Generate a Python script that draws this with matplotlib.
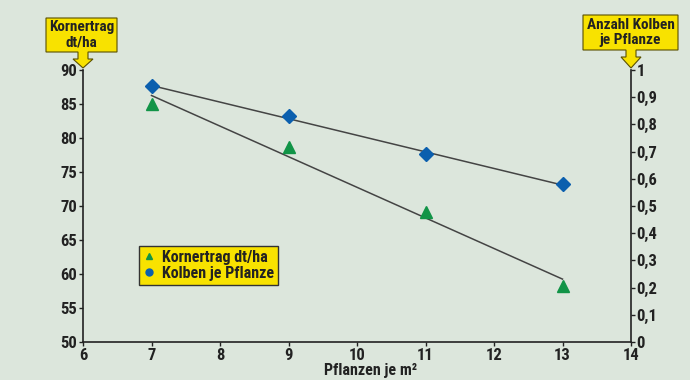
import numpy as np
import matplotlib
matplotlib.use("Agg")
import matplotlib.pyplot as plt
from matplotlib.patches import Polygon
from matplotlib.lines import Line2D

# data
pflanzen = [7, 9, 11, 13]
kornertrag = [85.0, 78.7, 69.1, 58.2]
kolben = [0.94, 0.83, 0.69, 0.58]

left_ticks = [50, 55, 60, 65, 70, 75, 80, 85, 90]
right_ticks = [0, 0.1, 0.2, 0.3, 0.4, 0.5, 0.6, 0.7, 0.8, 0.9, 1]
right_labels = ["0", "0,1", "0,2", "0,3", "0,4", "0,5", "0,6", "0,7", "0,8", "0,9", "1"]
x_ticks = [6, 7, 8, 9, 10, 11, 12, 13, 14]

bg = "#dce6dc"
yellow = "#f8e200"
green = "#119447"
blue = "#0b5fae"
dark = "#222222"

plt.rcParams['font.family'] = ['Roboto Condensed', 'DejaVu Sans']
plt.rcParams['font.weight'] = 'bold'

W, H = 690, 380
fig = plt.figure(figsize=(W / 100, H / 100), dpi=100, facecolor=bg)
ax = fig.add_axes([83 / W, 1 - 342 / H, (631 - 83) / W, (342 - 70) / H])
ax.set_facecolor(bg)
ax2 = ax.twinx()

# trend lines (least squares)
xs = np.array([pflanzen[0], pflanzen[-1]])
p1 = np.polyfit(pflanzen, kornertrag, 1)
p2 = np.polyfit(pflanzen, kolben, 1)
ax.plot(xs, np.polyval(p1, xs), color="#444444", lw=1.1, zorder=2)
ax2.plot(xs, np.polyval(p2, xs), color="#444444", lw=1.1, zorder=2)

ax.plot(pflanzen, kornertrag, linestyle="none", marker="^", ms=8, color=green, zorder=3)
ax2.plot(pflanzen, kolben, linestyle="none", marker="D", ms=7.5, color=blue, zorder=3)

ax.set_xlim(6, 14)
ax.set_ylim(50, 90)
ax2.set_ylim(0, 1)
ax.set_xticks(x_ticks)
ax.set_yticks(left_ticks)
ax2.set_yticks(right_ticks)
ax2.set_yticklabels(right_labels)

for a in (ax, ax2):
    a.spines["top"].set_visible(False)
    for s in a.spines.values():
        s.set_color(dark)
        s.set_linewidth(1.2)
    a.tick_params(colors=dark, labelsize=12, length=3, width=1, pad=1)
ax.spines["right"].set_visible(False)
ax2.spines["left"].set_visible(False)
ax2.spines["bottom"].set_visible(False)

fig.text(371 / W, 1 - 370 / H, "Pflanzen je m²", ha="center", va="center",
         fontsize=11.5, color=dark)


def callout(x0, x1, y0, y1, tip_x, tip_y, text):
    # box with a downward arrow, in pixel coordinates
    sw, aw, sy = 5, 10, y1 + 7
    pts = [(x0, y0), (x1, y0), (x1, y1), (tip_x + sw, y1), (tip_x + sw, sy),
           (tip_x + aw, sy), (tip_x, tip_y), (tip_x - aw, sy), (tip_x - sw, sy),
           (tip_x - sw, y1), (x0, y1)]
    pts = [(px / W, 1 - py / H) for px, py in pts]
    fig.patches.append(Polygon(pts, closed=True, transform=fig.transFigure,
                               facecolor=yellow, edgecolor="#5a5000", lw=0.8))
    fig.text((x0 + x1) / 2 / W, 1 - (y0 + y1) / 2 / H, text, ha="center", va="center",
             fontsize=11, color=dark, linespacing=1.1)


callout(46, 117, 18, 52, 83, 68, "Kornertrag\ndt/ha")
callout(583, 678, 15, 50, 631, 68, "Anzahl Kolben\nje Pflanze")

handles = [Line2D([], [], linestyle="none", marker="^", color=green, ms=5),
           Line2D([], [], linestyle="none", marker="o", color=blue, ms=5)]
leg = ax.legend(handles, ["Kornertrag dt/ha", "Kolben je Pflanze"],
                loc="upper left", bbox_to_anchor=((139 - 83) / (631 - 83), 1 - (246 - 70) / 272),
                frameon=True, fancybox=False, fontsize=11.5, handlelength=0.8,
                handletextpad=0.4, borderpad=0.25, labelspacing=0.05, borderaxespad=0)
leg.get_frame().set_facecolor(yellow)
leg.get_frame().set_edgecolor("#333333")
leg.get_frame().set_linewidth(1)
leg.get_frame().set_alpha(1)
for t in leg.get_texts():
    t.set_color(dark)

fig.savefig("out.png", dpi=100, facecolor=bg)
